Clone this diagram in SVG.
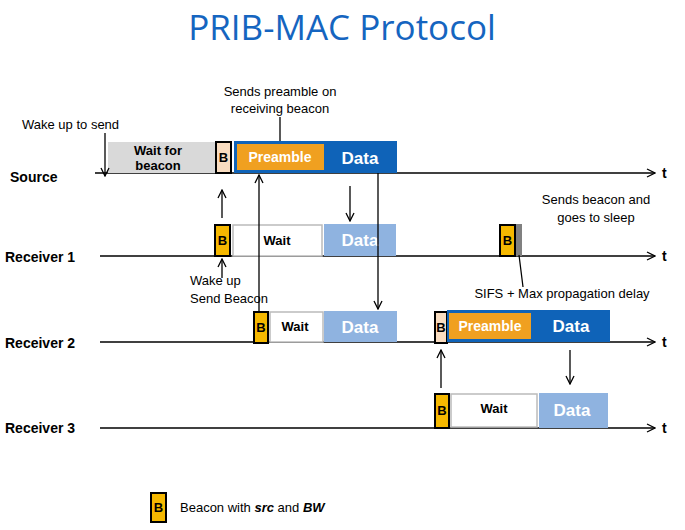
<svg xmlns="http://www.w3.org/2000/svg" width="685" height="530" viewBox="0 0 685 530">
<defs>
<marker id="ah" markerWidth="10" markerHeight="10" refX="9" refY="5" orient="auto" markerUnits="userSpaceOnUse"><path d="M1,1 L9,5 L1,9" fill="none" stroke="#000" stroke-width="1.3"/></marker>
</defs>
<style>
text{font-family:"Liberation Sans",Arial,sans-serif}
.lbl{font-size:14px;font-weight:bold}
.n{font-size:13px}
.ax{stroke:#000;stroke-width:1.3;fill:none}
.bY{fill:#f5b800;stroke:#000;stroke-width:2}
.bP{fill:#f8dcc0;stroke:#000;stroke-width:2}
.bt{font-size:13px;font-weight:bold;text-anchor:middle}
.wait{fill:#fff;stroke:#bbb;stroke-width:1.5}
.ld{fill:#8fb3e0}
.dd{fill:#0f63b8}
.pre{fill:#f0a020}
.wt{font-size:13px;font-weight:bold;text-anchor:middle}
.dt{font-size:17px;font-weight:bold;fill:#fff;text-anchor:middle}
.pt{font-size:14px;font-weight:bold;fill:#fff;text-anchor:middle}
</style>
<text x="342" y="40" font-size="35" fill="#1565c0" text-anchor="middle" style="font-family:'Open Sans',sans-serif">PRIB-MAC Protocol</text>

<g id="axes">
<line class="ax" x1="95" y1="173" x2="655" y2="173" marker-end="url(#ah)"/>
<line class="ax" x1="100" y1="256" x2="655" y2="256" marker-end="url(#ah)"/>
<line class="ax" x1="100" y1="342" x2="655" y2="342" marker-end="url(#ah)"/>
<line class="ax" x1="100" y1="428" x2="655" y2="428" marker-end="url(#ah)"/>
<text class="lbl" x="662" y="178">t</text><text class="lbl" x="662" y="261">t</text>
<text class="lbl" x="662" y="347">t</text><text class="lbl" x="662" y="433">t</text>
<text class="lbl" x="10" y="182">Source</text>
<text class="lbl" x="5" y="262">Receiver 1</text>
<text class="lbl" x="5" y="348">Receiver 2</text>
<text class="lbl" x="5" y="433">Receiver 3</text>
</g>

<g id="source">
<rect x="108" y="142" width="107" height="31" fill="#d9d9d9"/>
<text class="wt" x="158" y="155">Wait for</text><text class="wt" x="158" y="170">beacon</text>
<rect class="bP" x="216" y="142" width="15" height="31"/><text class="bt" x="223.5" y="162">B</text>
<rect class="dd" x="234" y="141" width="163" height="32"/>
<rect class="pre" x="237" y="144" width="87" height="26"/>
<text class="pt" x="280" y="162">Preamble</text>
<text class="dt" x="360" y="164">Data</text>
</g>

<g id="receiver1">
<rect class="bY" x="215" y="225" width="15" height="31"/><text class="bt" x="222.5" y="245">B</text>
<rect class="wait" x="233" y="225" width="89" height="31"/><text class="wt" x="277" y="245">Wait</text>
<rect class="ld" x="324" y="224" width="72" height="32"/><text class="dt" x="360" y="246">Data</text>
<rect class="bY" x="500" y="225" width="15" height="31"/><text class="bt" x="507.5" y="245">B</text>
<rect x="516" y="224" width="6" height="32" fill="#808080"/>
</g>

<g id="receiver2">
<rect class="bY" x="254" y="312" width="14" height="31"/><text class="bt" x="261" y="332">B</text>
<rect class="wait" x="270" y="312" width="53" height="30"/><text class="wt" x="295" y="331">Wait</text>
<rect class="ld" x="324" y="311" width="73" height="31"/><text class="dt" x="360" y="333">Data</text>
<rect class="bP" x="435" y="312" width="12" height="31"/><text class="bt" x="441" y="332">B</text>
<rect class="dd" x="447" y="310" width="163" height="32"/>
<rect class="pre" x="449" y="313" width="82" height="26"/>
<text class="pt" x="490" y="331">Preamble</text>
<text class="dt" x="571" y="332">Data</text>
</g>

<g id="receiver3">
<rect class="bY" x="435" y="394" width="14" height="34"/><text class="bt" x="442" y="415">B</text>
<rect class="wait" x="451" y="394" width="86" height="33"/><text class="wt" x="494" y="413">Wait</text>
<rect class="ld" x="539" y="393" width="69" height="35"/><text class="dt" x="572" y="416">Data</text>
</g>

<g id="connectors">
<line class="ax" x1="105" y1="133" x2="105" y2="176" marker-end="url(#ah)"/>
<line class="ax" x1="222" y1="218" x2="222" y2="190" marker-end="url(#ah)"/>
<line class="ax" x1="222" y1="278" x2="222" y2="259" marker-end="url(#ah)"/>
<line class="ax" x1="350" y1="186" x2="350" y2="221" marker-end="url(#ah)"/>
<line class="ax" x1="378" y1="173" x2="378" y2="309" marker-end="url(#ah)"/>
<line class="ax" x1="259" y1="312" x2="259" y2="175" marker-end="url(#ah)"/>
<line class="ax" x1="280" y1="117" x2="280" y2="141"/>
<line class="ax" x1="519" y1="255" x2="523" y2="287"/>
<line class="ax" x1="441" y1="388" x2="441" y2="350" marker-end="url(#ah)"/>
<line class="ax" x1="570" y1="350" x2="570" y2="384" marker-end="url(#ah)"/>
</g>

<g id="notes" class="n">
<text class="n" x="22" y="129">Wake up to send</text>
<text class="n" x="280" y="96" text-anchor="middle">Sends preamble on</text>
<text class="n" x="280" y="113" text-anchor="middle">receiving  beacon</text>
<text class="n" x="190" y="285">Wake up</text>
<text class="n" x="190" y="303">Send Beacon</text>
<text class="n" x="596" y="204" text-anchor="middle">Sends beacon and</text>
<text class="n" x="596" y="222" text-anchor="middle">goes to sleep</text>
<text class="n" x="562" y="298" text-anchor="middle">SIFS + Max propagation delay</text>
</g>

<g id="legend">
<rect class="bY" x="151" y="493" width="15" height="29"/><text class="bt" x="158.5" y="512">B</text>
<text class="n" x="180" y="512">Beacon with <tspan font-weight="bold" font-style="italic">src</tspan> and <tspan font-weight="bold" font-style="italic">BW</tspan></text>
</g>
</svg>
